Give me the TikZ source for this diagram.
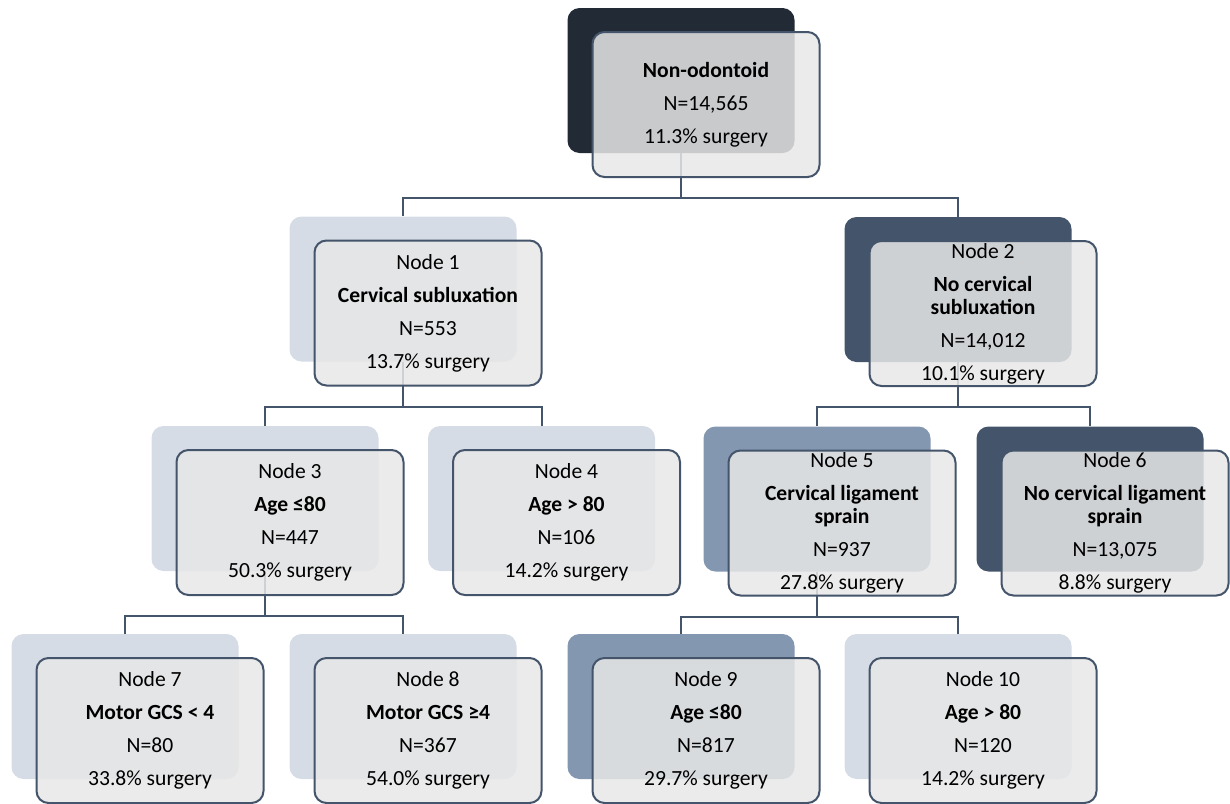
\documentclass[tikz,border=0pt]{standalone}
\usepackage{fontspec}
\setmainfont{Carlito}
\usetikzlibrary{positioning}

\definecolor{rootc}{HTML}{222A35}
\definecolor{darkc}{HTML}{44546A}
\definecolor{midc}{HTML}{8497B0}
\definecolor{lightc}{HTML}{D6DCE5}
\definecolor{boxc}{HTML}{E7E7E7}
\definecolor{framec}{HTML}{44546A}

\tikzset{
	back/.style={rectangle, rounded corners=6pt, minimum width=113.5pt, minimum height=72.5pt},
	front/.style={rectangle, rounded corners=6pt, minimum width=113.5pt, minimum height=72.5pt,
		draw=framec, line width=1pt, fill=boxc, fill opacity=0.85, text opacity=1,
		align=center, inner sep=0pt, font=\fontsize{10.8}{16.5}\selectfont},
	link/.style={draw=framec, line width=1pt}
}

\begin{document}
\begin{tikzpicture}[x=0.5pt, y=-0.5pt]
	\useasboundingbox (0,0) rectangle (1230,803);
	% back boxes
	\node[back, fill=rootc] (rootb) at (681,80.5) {};
	\node[back, fill=lightc] (n1b) at (403,289) {};
	\node[back, fill=darkc] (n2b) at (958,289.5) {};
	\node[back, fill=lightc] (n3b) at (265,498.5) {};
	\node[back, fill=lightc] (n4b) at (541.5,498.5) {};
	\node[back, fill=midc] (n5b) at (817,499) {};
	\node[back, fill=darkc] (n6b) at (1090,499) {};
	\node[back, fill=lightc] (n7b) at (125,706.5) {};
	\node[back, fill=lightc] (n8b) at (403,706.5) {};
	\node[back, fill=midc] (n9b) at (681,706.5) {};
	\node[back, fill=lightc] (n10b) at (958,706.5) {};
	% connectors
	\draw[link] (rootb.south) -- ++(0,45) coordinate (s0) -| (n1b.north);
	\draw[link] (s0) -| (n2b.north);
	\draw[link] (n1b.south) -- ++(0,45) coordinate (s1) -| (n3b.north);
	\draw[link] (s1) -| (n4b.north);
	\draw[link] (n2b.south) -- ++(0,45) coordinate (s2) -| (n5b.north);
	\draw[link] (s2) -| (n6b.north);
	\draw[link] (n3b.south) -- ++(0,45) coordinate (s3) -| (n7b.north);
	\draw[link] (s3) -| (n8b.north);
	\draw[link] (n5b.south) -- ++(0,45) coordinate (s5) -| (n9b.north);
	\draw[link] (s5) -| (n10b.north);
	% front boxes
	\node[front] (root) at (706,104.5) {\textbf{Non-odontoid}\\N=14,565\\11.3\% surgery};
	\node[front] (n1) at (428,313) {Node 1\\\textbf{Cervical subluxation}\\N=553\\13.7\% surgery};
	\node[front] (n2) at (983,313.5) {Node 2\\\textbf{No cervical}\\[-5pt]\textbf{subluxation}\\N=14,012\\10.1\% surgery};
	\node[front] (n3) at (290,522.5) {Node 3\\\textbf{Age ≤80}\\N=447\\50.3\% surgery};
	\node[front] (n4) at (566.5,522.5) {Node 4\\\textbf{Age > 80}\\N=106\\14.2\% surgery};
	\node[front] (n5) at (842,523) {Node 5\\\textbf{Cervical ligament}\\[-5pt]\textbf{sprain}\\N=937\\27.8\% surgery};
	\node[front] (n6) at (1115,523) {Node 6\\\textbf{No cervical ligament}\\[-5pt]\textbf{sprain}\\N=13,075\\8.8\% surgery};
	\node[front] (n7) at (150,730.5) {Node 7\\\textbf{Motor GCS < 4}\\N=80\\33.8\% surgery};
	\node[front] (n8) at (428,730.5) {Node 8\\\textbf{Motor GCS ≥4}\\N=367\\54.0\% surgery};
	\node[front] (n9) at (706,730.5) {Node 9\\\textbf{Age ≤80}\\N=817\\29.7\% surgery};
	\node[front] (n10) at (983,730.5) {Node 10\\\textbf{Age > 80}\\N=120\\14.2\% surgery};
\end{tikzpicture}
\end{document}
